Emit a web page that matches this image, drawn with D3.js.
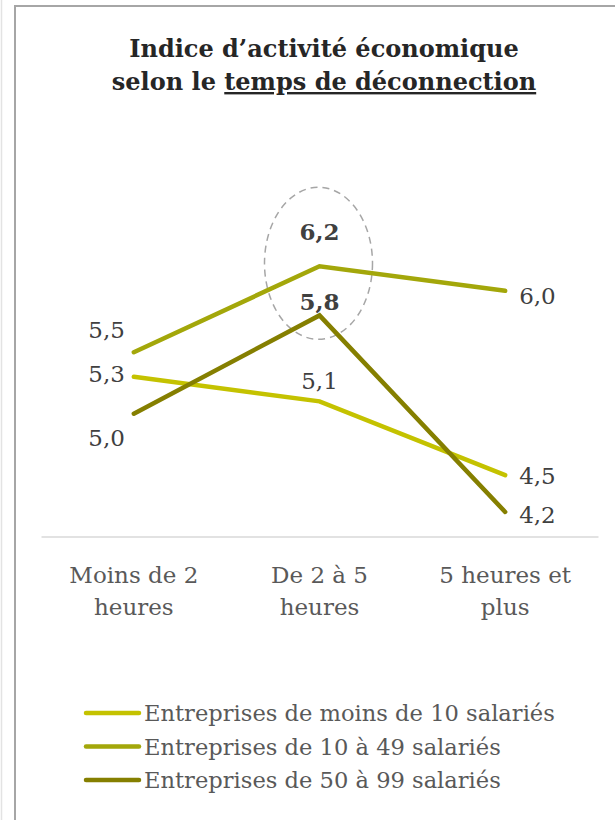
<!DOCTYPE html>
<html>
<head>
<meta charset="utf-8">
<script src="https://cdn.jsdelivr.net/npm/d3@7"></script>
<style>
  body { margin: 0; background: #fff; }
  svg { display: block; font-family: 'DejaVu Serif', serif; }
</style>
</head>
<body>
<div id="chart"></div>
<script>
const categories = ['Moins de 2 heures', 'De 2 à 5 heures', '5 heures et plus'];
const categoryLines = [['Moins de 2', 'heures'], ['De 2 à 5', 'heures'], ['5 heures et', 'plus']];
const seriesNames = [
  'Entreprises de moins de 10 salariés',
  'Entreprises de 10 à 49 salariés',
  'Entreprises de 50 à 99 salariés'
];
const small = [5.3, 5.1, 4.5];
const medium = [5.5, 6.2, 6.0];
const large = [5.0, 5.8, 4.2];
const highlighted = [6.2, 5.8];

const w = 615;
const h = 820;
const colors = ['#c4c200', '#a3a70a', '#857f00'];
const fs = 23;

// label offsets per series: [left dy, middle dy, right dy]
const labelDy = [[5, -12, 9], [-14, -26, 13], [32, -5, 11]];

const svg = d3.select('#chart')
  .append('svg')
  .attr('width', w)
  .attr('height', h);

// frame
svg.append('line')
  .attr('x1', 1.5).attr('x2', 1.5).attr('y1', 0).attr('y2', h)
  .attr('stroke', '#e3e3e3').attr('stroke-width', 1.5);
svg.append('path')
  .attr('d', `M15,${h} V6 H${w}`)
  .attr('fill', 'none')
  .attr('stroke', '#a6a6a6')
  .attr('stroke-width', 2);

// title
const title = svg.append('text')
  .attr('text-anchor', 'middle')
  .attr('font-weight', 'bold')
  .attr('font-size', 24)
  .attr('fill', '#262626');
title.append('tspan').attr('x', 324).attr('y', 57).text('Indice d’activité économique');
const t2 = title.append('tspan').attr('x', 324).attr('y', 90);
t2.append('tspan').text('selon le ');
t2.append('tspan').attr('text-decoration', 'underline').text('temps de déconnection');

const xScale = d3.scaleBand()
  .domain(categories)
  .range([41, 598])
  .padding(0);

const yScale = d3.scaleLinear()
  .domain([4, 7])
  .range([536.5, 168]);

const cx = d => xScale(d) + xScale.bandwidth() / 2;

// category axis
const xAxis = d3.axisBottom(xScale).tickSize(0).tickFormat('');
const gx = svg.append('g')
  .attr('transform', `translate(0,${yScale(4)})`)
  .call(xAxis);
gx.select('.domain').attr('stroke', '#d9d9d9').attr('stroke-width', 1.5);

const catText = svg.append('g')
  .selectAll('text')
  .data(categories)
  .enter()
  .append('text')
  .attr('text-anchor', 'middle')
  .attr('font-size', fs)
  .attr('fill', '#595959');
catText.each(function (d, i) {
  categoryLines[i].forEach((line, j) => {
    d3.select(this).append('tspan')
      .attr('x', cx(d))
      .attr('y', 583 + j * 32)
      .text(line);
  });
});

// highlight ellipse
svg.append('ellipse')
  .attr('cx', cx(categories[1]) - 1)
  .attr('cy', yScale(6.2) - 3)
  .attr('rx', 54)
  .attr('ry', 76)
  .attr('fill', 'none')
  .attr('stroke', '#a6a6a6')
  .attr('stroke-width', 1.5)
  .attr('stroke-dasharray', '7,5');

// lines
const allSeries = [small, medium, large];
const line = d3.line()
  .x((d, i) => cx(categories[i]))
  .y(d => yScale(d));

svg.selectAll('.series')
  .data(allSeries)
  .enter()
  .append('path')
  .attr('class', 'series')
  .attr('d', line)
  .attr('fill', 'none')
  .attr('stroke', (d, i) => colors[i])
  .attr('stroke-width', 4.5)
  .attr('stroke-linecap', 'round')
  .attr('stroke-linejoin', 'miter');

// data labels
const fmt = v => d3.format('.1f')(v).replace('.', ',');
allSeries.forEach((vals, s) => {
  vals.forEach((v, i) => {
    const x = cx(categories[i]);
    const anchor = i === 0 ? 'end' : i === 1 ? 'middle' : 'start';
    const dx = i === 0 ? -9 : i === 1 ? 0 : 14;
    svg.append('text')
      .attr('x', x + dx)
      .attr('y', yScale(v) + labelDy[s][i])
      .attr('text-anchor', anchor)
      .attr('font-size', fs)
      .attr('font-weight', i === 1 && s > 0 && highlighted.includes(v) ? 'bold' : 'normal')
      .attr('fill', '#404040')
      .text(fmt(v));
  });
});

// legend
const legend = svg.append('g')
  .selectAll('g')
  .data(seriesNames)
  .enter()
  .append('g')
  .attr('transform', (d, i) => `translate(0,${713 + i * 33.5})`);

legend.append('line')
  .attr('x1', 86).attr('x2', 139)
  .attr('stroke', (d, i) => colors[i])
  .attr('stroke-width', 4.5)
  .attr('stroke-linecap', 'round');

legend.append('text')
  .attr('x', 144)
  .attr('y', 8)
  .attr('font-size', 22.6)
  .attr('fill', '#595959')
  .text(d => d);
</script>
</body>
</html>
